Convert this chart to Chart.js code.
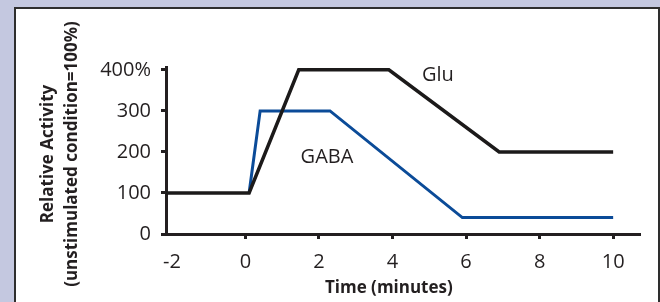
<!DOCTYPE html>
<html>
<head>
<meta charset="utf-8">
<script src="https://cdn.jsdelivr.net/npm/chart.js@4.4.0/dist/chart.umd.min.js"></script>
<style>
  body { margin: 0; width: 660px; height: 302px; overflow: hidden; background: #c4c8e0; position: relative; }
  #panel { position: absolute; left: 14px; top: 7px; width: 642px; height: 400px; background: #fff; border: 2px solid #2e2e2e; }
  #wrap { position: absolute; left: 0; top: 0; width: 660px; height: 302px; }
</style>
</head>
<body>
<div id="panel"></div>
<div id="wrap"><canvas id="myChart" width="660" height="302"></canvas></div>
<script>
'use strict';
// time in minutes, activity in % of unstimulated condition
let gluTime = [-2.16, 0.1, 1.45, 3.9, 6.9, 10];
let gluActivity = [100, 100, 400, 400, 200, 200];
let gabaTime = [0.1, 0.4, 2.3, 5.9, 10];
let gabaActivity = [100, 300, 300, 40, 40];
let xTicks = [-2, 0, 2, 4, 6, 8, 10];
let yTicks = [0, 100, 200, 300, 400];

let seriesLabels = [
    {text: 'Glu', x: 4.8, y: 386},
    {text: 'GABA', x: 1.5, y: 188}
];

function toPoints(xs, ys){
    let pts = [];
    for (let i = 0; i < xs.length; i++){
        pts.push({x: xs[i], y: ys[i]});
    }
    return pts;
}

let tickFont = {family: '"Open Sans", sans-serif', size: 20};
let axisColor = '#231f20';

// draws series names and axis titles
let textPlugin = {
    id: 'textPlugin',
    afterDraw(chart){
        let ctx = chart.ctx;
        let xs = chart.scales.x;
        let ys = chart.scales.y;
        ctx.save();
        ctx.fillStyle = axisColor;
        ctx.font = '20px "Open Sans", sans-serif';
        ctx.textBaseline = 'middle';
        ctx.textAlign = 'left';
        seriesLabels.forEach(function(l){
            ctx.fillText(l.text, xs.getPixelForValue(l.x), ys.getPixelForValue(l.y));
        });
        ctx.font = 'bold 17px "Open Sans", sans-serif';
        ctx.textAlign = 'center';
        ctx.fillText('Time (minutes)', xs.getPixelForValue(3.9), 288);
        ctx.translate(48, 154);
        ctx.rotate(-Math.PI / 2);
        ctx.fillText('Relative Activity', 0, 0);
        ctx.fillText('(unstimulated condition=100%)', 0, 24);
        ctx.restore();
    }
};

let ctx = document.getElementById('myChart').getContext('2d');
let myChart = new Chart(ctx, {
    type: 'scatter',
    data: {
        datasets: [{
            label: 'Glu',
            data: toPoints(gluTime, gluActivity),
            showLine: true,
            borderColor: '#1c1a1a',
            borderWidth: 3.5,
            pointRadius: 0,
            borderJoinStyle: 'miter',
            tension: 0
        }, {
            label: 'GABA',
            data: toPoints(gabaTime, gabaActivity),
            showLine: true,
            borderColor: '#0b4b98',
            borderWidth: 3,
            pointRadius: 0,
            borderJoinStyle: 'miter',
            tension: 0
        }]
    },
    options: {
        responsive: false,
        animation: false,
        layout: {padding: {left: 36, top: 67, right: 20, bottom: 0}},
        plugins: {legend: {display: false}, tooltip: {enabled: false}},
        scales: {
            x: {
                type: 'linear',
                min: -2.16,
                max: 10.73,
                afterBuildTicks: function(scale){
                    scale.ticks = xTicks.map(function(v){ return {value: v}; });
                },
                afterFit: function(scale){ scale.height = 68; },
                border: {display: true, width: 3, color: axisColor},
                grid: {
                    drawOnChartArea: false,
                    tickLength: 5,
                    tickWidth: 3,
                    tickColor: function(c){ return c.tick && c.tick.value === -2 ? 'rgba(0,0,0,0)' : axisColor; }
                },
                ticks: {font: tickFont, color: axisColor, padding: 11, maxRotation: 0,
                    callback: function(v){ return String(v); }}
            },
            y: {
                min: 0,
                max: 407,
                afterBuildTicks: function(scale){
                    scale.ticks = yTicks.map(function(v){ return {value: v}; });
                },
                afterFit: function(scale){ scale.width = 130; },
                border: {display: true, width: 3, color: axisColor},
                grid: {drawOnChartArea: false, tickLength: 5, tickWidth: 3, tickColor: axisColor},
                ticks: {font: tickFont, color: axisColor, padding: 10,
                    callback: function(v){ return v === 400 ? '400%' : String(v); }}
            }
        }
    },
    plugins: [textPlugin]
});
</script>
</body>
</html>
